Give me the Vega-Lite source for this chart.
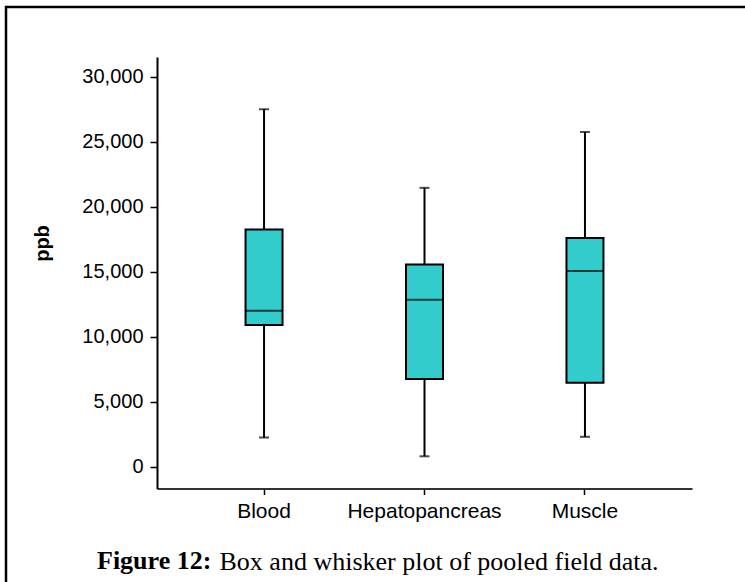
{
  "$schema": "https://vega.github.io/schema/vega-lite/v6.json",
  "width": 760,
  "height": 600,
  "autosize": {"type": "none"},
  "padding": {"left": 6, "top": 7, "right": -21, "bottom": -25},
  "background": "white",
  "config": {
    "view": {"stroke": "black", "strokeWidth": 2.5},
    "font": "Liberation Sans"
  },
  "title": {
    "text": "Figure 12:",
    "orient": "bottom",
    "frame": "group",
    "anchor": "start",
    "baseline": "alphabetic",
    "offset": -38,
    "dx": 91,
    "font": "Liberation Serif",
    "fontSize": 26,
    "fontWeight": "bold",
    "color": "black"
  },
  "data": {
    "values": [
      {"tissue": "Blood", "min": 2250, "q1": 10900, "median": 12000, "q3": 18250, "max": 27500},
      {"tissue": "Hepatopancreas", "min": 800, "q1": 6750, "median": 12850, "q3": 15550, "max": 21450},
      {"tissue": "Muscle", "min": 2300, "q1": 6450, "median": 15050, "q3": 17600, "max": 25750}
    ]
  },
  "encoding": {
    "x": {
      "field": "tissue",
      "type": "nominal",
      "sort": ["Blood", "Hepatopancreas", "Muscle"],
      "scale": {"type": "band", "range": [151, 686], "paddingInner": 0, "paddingOuter": 0.167},
      "axis": {
        "title": "Box and whisker plot of pooled field data.",
        "titleFont": "Liberation Serif",
        "titleFontSize": 26,
        "titleFontWeight": "normal",
        "titleColor": "black",
        "titleAlign": "left",
        "titleAnchor": null,
        "titleBaseline": "alphabetic",
        "titleX": 213,
        "titleY": 80.5,
        "offset": -118.5,
        "labelAngle": 0,
        "labelFont": "Liberation Sans",
        "labelFontSize": 21,
        "labelColor": "black",
        "labelPadding": 6,
        "tickSize": 6,
        "tickColor": "black",
        "tickWidth": 1.5,
        "domainColor": "#333333",
        "domainWidth": 2,
        "grid": false
      }
    }
  },
  "layer": [
    {
      "mark": {"type": "rule", "color": "black", "strokeWidth": 2},
      "encoding": {
        "y": {
          "field": "min",
          "type": "quantitative",
          "scale": {"domain": [-1677, 31515], "range": [481.5, 50], "nice": false, "zero": false},
          "axis": {
            "title": "ppb",
            "titleFont": "Liberation Sans",
            "titleFontSize": 20,
            "titleFontWeight": "bold",
            "titleColor": "black",
            "titleAngle": -90,
            "titleAlign": "center",
            "titleBaseline": "alphabetic",
            "titleX": -109,
            "titleY": 236,
            "offset": -151,
            "values": [0, 5000, 10000, 15000, 20000, 25000, 30000],
            "format": ",d",
            "labelFont": "Liberation Sans",
            "labelFontSize": 20,
            "labelColor": "black",
            "labelPadding": 7,
            "tickSize": 7,
            "tickColor": "black",
            "tickWidth": 1.5,
            "domainColor": "black",
            "domainWidth": 2,
            "grid": false
          }
        },
        "y2": {"field": "max"}
      }
    },
    {
      "mark": {"type": "bar", "size": 37, "fill": "#33CCCC", "stroke": "black", "strokeWidth": 2},
      "encoding": {
        "y": {"field": "q1", "type": "quantitative"},
        "y2": {"field": "q3"}
      }
    },
    {
      "mark": {"type": "tick", "size": 37, "thickness": 2, "color": "black"},
      "encoding": {"y": {"field": "median", "type": "quantitative"}}
    },
    {
      "mark": {"type": "tick", "size": 10, "thickness": 2, "color": "black"},
      "encoding": {"y": {"field": "min", "type": "quantitative"}}
    },
    {
      "mark": {"type": "tick", "size": 10, "thickness": 2, "color": "black"},
      "encoding": {"y": {"field": "max", "type": "quantitative"}}
    }
  ]
}
